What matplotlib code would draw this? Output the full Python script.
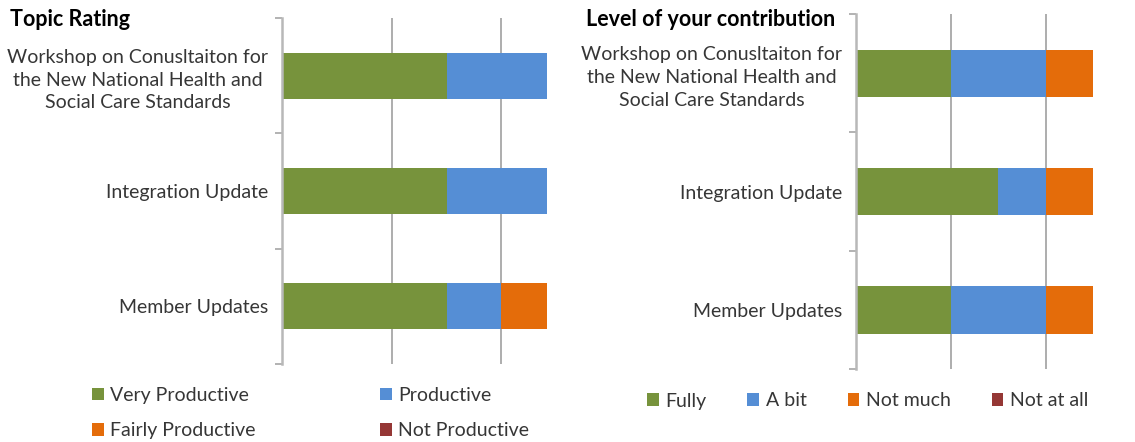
import matplotlib
matplotlib.use('Agg')
import matplotlib.pyplot as plt
from matplotlib.ticker import FixedLocator

plt.rcParams['font.family'] = ['Lato', 'DejaVu Sans']

categories = ['Workshop on Conusltaiton for\nthe New National Health and\nSocial Care Standards',
              'Integration Update', 'Member Updates']

topic_labels = ['Very Productive', 'Productive', 'Fairly Productive', 'Not Productive']
very_productive = [3, 3, 3]
productive = [2, 2, 1]
fairly_productive = [0, 0, 1]
not_productive = [0, 0, 0]

contrib_labels = ['Fully', 'A bit', 'Not much', 'Not at all']
fully = [2, 3, 2]
a_bit = [2, 1, 2]
not_much = [1, 1, 1]
not_at_all = [0, 0, 0]

colors = ['#77933C', '#558ED5', '#E46C0A', '#953735']

W, H = 1135, 442
FS = 14
TFS = 15.5
TXT = '#363636'


def box(x0, x1, y0, y1):
    # pixel box (top-left origin) -> figure fraction rect
    return [x0 / W, 1 - y1 / H, (x1 - x0) / W, (y1 - y0) / H]


def draw(ax, series, labels, xmax):
    y = list(range(len(categories)))
    left = [0] * len(categories)
    bars = []
    for vals, lab, c in zip(series, labels, colors):
        b = ax.barh(y, vals, left=left, height=0.4, color=c, label=lab,
                    edgecolor='none', zorder=3)
        bars.append(b)
        left = [l + v for l, v in zip(left, vals)]
    ax.set_xlim(0, xmax)
    ax.set_ylim(len(categories) - 0.5, -0.5)
    ax.set_yticks(y)
    ax.set_yticklabels(categories, fontsize=FS, color=TXT, multialignment='center')
    for t in ax.get_yticklabels():
        t.set_linespacing(1.42)
    ax.yaxis.set_minor_locator(FixedLocator([i - 0.5 for i in range(len(categories) + 1)]))
    ax.tick_params(axis='y', which='major', length=0, pad=10)
    ax.tick_params(axis='y', which='minor', length=5, color='#A6A6A6', width=1.2)
    ax.set_xticks([0, 2, 4])
    ax.tick_params(axis='x', length=0, labelbottom=False)
    ax.grid(axis='x', color='#A0A0A0', linewidth=1.2, zorder=0)
    for s in ['top', 'right', 'bottom']:
        ax.spines[s].set_visible(False)
    ax.spines['left'].set_color('#B8B8B8')
    ax.spines['left'].set_linewidth(1.8)
    ax.spines['left'].set_zorder(4)
    return bars


fig = plt.figure(figsize=(W / 100, H / 100), dpi=100)

ax1 = fig.add_axes(box(282, 547, 18, 364))
b1 = draw(ax1, [very_productive, productive, fairly_productive, not_productive],
          topic_labels, 4.83)

ax2 = fig.add_axes(box(856, 1093.3, 14, 369))
b2 = draw(ax2, [fully, a_bit, not_much, not_at_all], contrib_labels, 5)

fig.text(10 / W, 1 - 20 / H, 'Topic Rating', fontsize=TFS, fontweight='bold',
         color='black', va='center', ha='left')
fig.text(586 / W, 1 - 20 / H, 'Level of your contribution', fontsize=TFS,
         fontweight='bold', color='black', va='center', ha='left')

leg_kw = dict(frameon=False, fontsize=FS, handlelength=0.6, handleheight=0.6,
              handletextpad=0.35, borderpad=0, borderaxespad=0, labelcolor=TXT,
              loc='center left')
fig.legend([b1[0], b1[2]], [topic_labels[0], topic_labels[2]], labelspacing=0.95,
           bbox_to_anchor=(92 / W, 1 - 413 / H), **leg_kw)
fig.legend([b1[1], b1[3]], [topic_labels[1], topic_labels[3]], labelspacing=0.95,
           bbox_to_anchor=(380 / W, 1 - 413 / H), **leg_kw)
fig.legend(b2, contrib_labels, ncol=4, columnspacing=2.1,
           bbox_to_anchor=(647 / W, 1 - 401 / H), **leg_kw)

fig.savefig('out.png', dpi=100)
